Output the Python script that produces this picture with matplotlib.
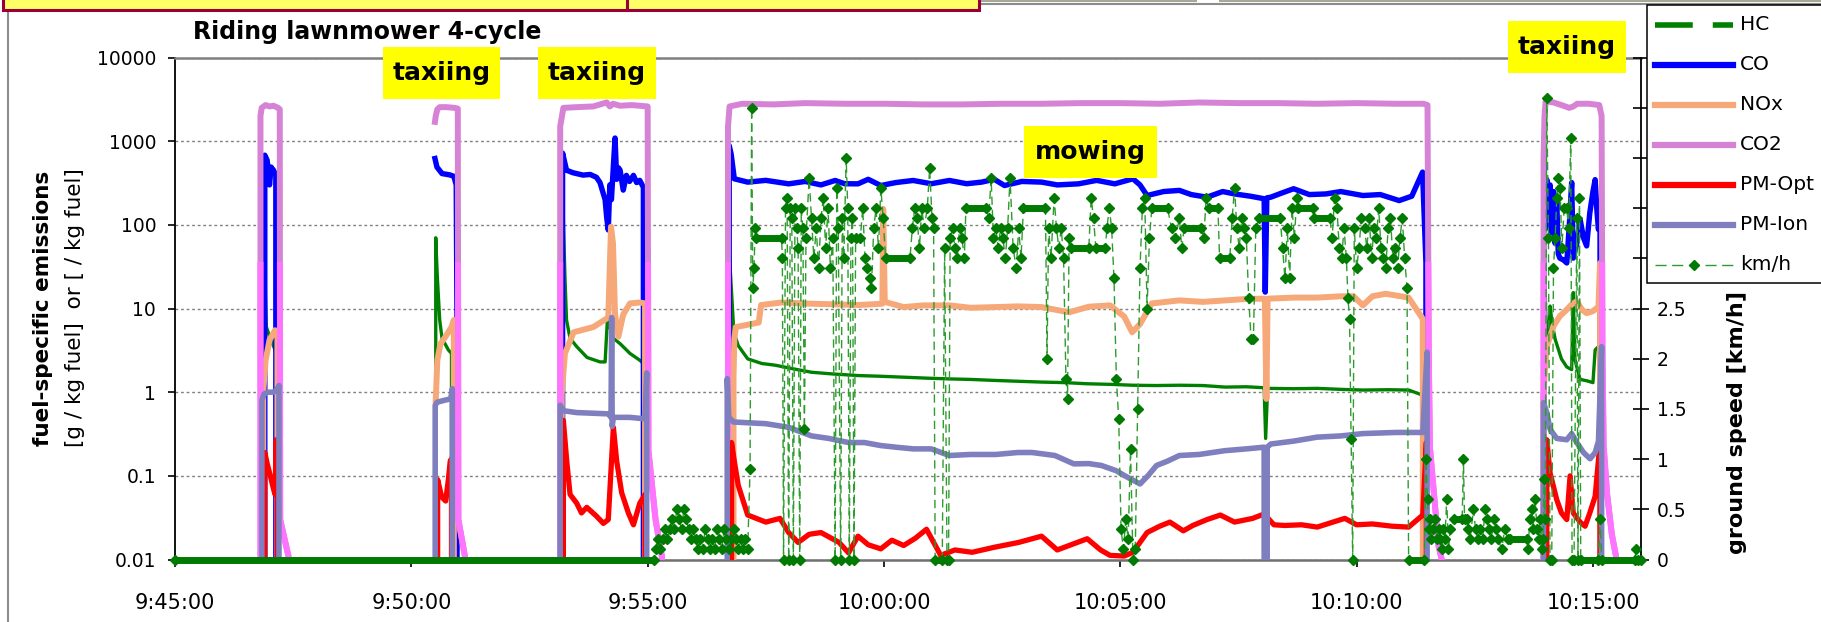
import numpy as np
import matplotlib
matplotlib.use("Agg")
import matplotlib.pyplot as plt
import matplotlib.dates as mdates
from matplotlib.lines import Line2D
from matplotlib.patches import Rectangle
from matplotlib.transforms import Affine2D
from matplotlib.ticker import NullLocator

nan = np.nan

# (seconds after 9:45:00, g / kg fuel)   0 = signal dropped out, nan = no record
hc = [(108, 0), (110, 60), (113, 50), (116, 6), (121, 4.4), (127, 3.2), (130, 3.0), (132, 0), (200, nan),
      (330.5, 0), (331, 70), (332, 40), (333, 24), (336, 7.3), (339, 4.4), (347, 3.2), (351, 2.9), (352, 0), (420, nan),
      (489, 0), (490, 100), (493, 113), (495, 24), (497, 7.3), (501.5, 4.4), (510, 3.5), (523, 2.6), (539.5, 2.3),
      (546, 2.3), (550, 11.5), (552, 6), (556.5, 4.4), (565, 3.8), (577.6, 2.9), (590.3, 2.4), (596.7, 2.1), (598, 40),
      (599, 0), (650, nan),
      (702.5, 0), (703, 60), (706, 19), (709.4, 5.2), (715, 3.6), (727, 2.5), (745, 2.2), (762, 2.1), (785, 1.9),
      (808, 1.73), (835, 1.65), (867, 1.58), (895, 1.55), (925, 1.51), (955, 1.47), (983, 1.44), (1010, 1.42),
      (1042, 1.38), (1070, 1.35), (1100, 1.32), (1130, 1.3), (1158, 1.26), (1187, 1.24), (1216, 1.21), (1245, 1.2),
      (1275, 1.21), (1305, 1.2), (1333, 1.15), (1360, 1.16), (1382.6, 1.13), (1384.5, 0.28), (1387, 1.11), (1420, 1.1),
      (1450, 1.11), (1480, 1.08), (1508, 1.06), (1540, 1.07), (1566, 1.06), (1580, 0.95), (1584, 0.9), (1589, 4.2),
      (1590, 0), (1650, nan),
      (1737, 0), (1737.3, 96), (1739, 24), (1741, 4), (1743, 3.5), (1745.6, 10.7), (1748, 6.8), (1752, 4.3), (1760, 2.5),
      (1766.8, 2.0), (1773, 1.86), (1775, 15.5), (1777, 2.5), (1779.5, 2.0), (1783.7, 1.42), (1792, 1.37), (1800, 1.3),
      (1802.8, 3.2), (1807, 3.5), (1809, 3.5), (1810, 0)]

co = [(113, 0), (114, 680), (117, 590), (120, 300), (122, 490), (125, 450), (128, 390), (129, 0), (200, nan),
      (330, 620), (332.5, 490), (339, 410), (349, 395), (354, 380), (357, 300), (358, 7.3), (358.5, 0), (420, nan),
      (491, 0), (492, 720), (497, 450), (505, 420), (518, 393), (527, 400), (535, 370), (539.5, 320), (546, 200),
      (548, 123), (550, 87), (552, 300), (554, 200), (556.5, 500), (558.6, 1090), (560.7, 350), (563, 480), (565, 450),
      (569, 260), (573, 390), (577, 330), (582, 390), (586, 320), (590, 340), (594.6, 280), (596, 0), (650, nan),
      (703, 0), (703.5, 890), (706, 700), (710, 355), (727, 324), (750, 340), (779, 309), (800, 330), (820, 300),
      (838, 339), (850, 310), (867, 309), (880, 350), (896, 295), (915, 320), (937, 339), (960, 310), (983, 339),
      (1005, 310), (1024, 324), (1040, 350), (1053, 295), (1075, 330), (1100, 324), (1120, 300), (1147, 309),
      (1170, 340), (1193, 309), (1216, 355), (1225, 300), (1234, 224), (1255, 250), (1275, 258), (1290, 230),
      (1310, 214), (1330, 250), (1345, 234), (1365, 220), (1382.6, 205), (1384, 15.7), (1386, 210), (1391, 214),
      (1405, 240), (1420, 270), (1440, 230), (1461, 234), (1480, 250), (1508, 224), (1530, 230), (1554, 195),
      (1570, 220), (1583.7, 427), (1588, 35), (1589, 0), (1650, nan),
      (1737, 0), (1737.5, 870), (1738.5, 300), (1740, 90), (1741.4, 347), (1743, 120), (1745.6, 300), (1748, 80),
      (1750, 250), (1752, 60), (1754, 200), (1756, 45), (1758, 40), (1762.6, 38), (1766.8, 35), (1770, 100),
      (1773, 320), (1775, 40), (1779.5, 60), (1783.7, 116), (1788, 70), (1792, 56), (1796, 139), (1800, 250),
      (1802.8, 347), (1805, 150), (1807, 88), (1809, 167), (1810, 0)]

nox = [(111, 0), (112, 1.0), (115, 2.4), (120, 4.2), (127, 5.5), (130, 5.0), (131, 0), (200, nan),
       (331, 0.8), (333, 2.4), (337, 3.8), (342, 4.4), (351, 6.0), (354, 7.3), (355, 0), (420, nan),
       (490.5, 0), (491, 0.97), (495, 2.9), (506, 5.2), (531, 6.0), (550, 7.8), (553.5, 95), (556, 60), (558.6, 8.5),
       (562.8, 4.6), (569, 8.5), (577.6, 11.5), (590, 11.8), (596.7, 11.5), (597, 0), (650, nan),
       (708, 0), (709, 1.5), (710, 4.3), (712, 6.0), (741, 6.8), (744, 11.0), (770, 11.8), (808, 11.4), (840, 11.2),
       (867, 11.0), (898, 11.4), (899, 155), (901, 12.0), (925, 10.4), (950, 10.9), (983, 10.9), (1010, 10.2),
       (1042, 10.4), (1070, 10.6), (1100, 10.4), (1135, 9.0), (1160, 10.5), (1187, 10.9), (1205, 8.0), (1215, 5.2),
       (1225, 6.5), (1240, 11.5), (1275, 12.5), (1305, 12.0), (1333, 12.5), (1360, 13.0), (1382, 13.1), (1383.5, 13.0),
       (1385.5, 0.83), (1387, 13.1), (1420, 13.5), (1450, 13.5), (1480, 14.0), (1496, 14.0), (1508, 10.9),
       (1520, 14.0), (1537, 15.0), (1566, 13.5), (1584, 7.5), (1586, 0), (1650, nan),
       (1737, 0), (1737.2, 0.89), (1739, 1.7), (1741.4, 3.5), (1750, 6.2), (1758, 8.1), (1766.8, 9.7), (1773, 11.2),
       (1779.5, 12.2), (1786, 9.7), (1792, 8.8), (1800, 9.3), (1807, 10.5), (1809, 35), (1810, 0)]

co2 = [(108, 0), (108.5, 2000), (110, 2500), (115, 2700), (120, 2600), (125, 2650), (131, 2500), (133, 2400),
       (133.5, 0.03), (144, 0.011), (145, 0), (200, nan),
       (330, 1700), (331, 2000), (333, 2400), (336, 2550), (345, 2550), (355, 2500), (359, 2450), (359.7, 0.03),
       (368, 0.011), (369, 0), (420, nan),
       (488.5, 0), (489, 1500), (493, 2500), (510, 2550), (531, 2600), (548, 2900), (552, 2600), (556, 2800),
       (565, 2650), (580, 2700), (600, 2600), (601, 0.2), (610, 0.03), (618, 0.011), (619, 0), (650, nan),
       (701.5, 0), (702, 1500), (704, 2600), (720, 2800), (760, 2750), (800, 2850), (850, 2800), (900, 2800),
       (950, 2750), (1000, 2750), (1050, 2800), (1100, 2800), (1150, 2850), (1200, 2850), (1250, 2800), (1300, 2900),
       (1350, 2850), (1400, 2850), (1450, 2800), (1500, 2850), (1550, 2800), (1585, 2800), (1590, 2700),
       (1591.5, 3.2), (1593, 0.22), (1604, 0.0145), (1608, 0.01), (1609, 0), (1650, nan),
       (1737, 0), (1737.3, 600), (1738.5, 2000), (1740, 3000), (1750, 2900), (1760, 2700), (1770, 2500), (1775, 2600),
       (1780, 2800), (1795, 2800), (1808, 2700), (1811, 2000), (1812, 3.5), (1813.5, 0.23), (1818, 0.06),
       (1824, 0.02), (1830, 0.01), (1831, 0)]

pm_opt = [(113, 0), (114, 0.19), (117, 0.14), (121, 0.1), (125, 0.07), (127, 0.06), (128.5, 0.27), (130, 0.05),
          (130.5, 0), (200, nan),
          (333, 0), (333.4, 0.09), (338.5, 0.056), (343.6, 0.05), (347, 0.09), (349.4, 0.15), (351, 0.16),
          (351.5, 0), (420, nan),
          (492.5, 0), (493, 0.46), (497.3, 0.15), (501.5, 0.06), (510, 0.047), (516, 0.036), (522.7, 0.042),
          (535, 0.033), (543.8, 0.027), (550, 0.03), (556.5, 0.38), (560.7, 0.15), (567, 0.063), (575.5, 0.036),
          (582, 0.026), (590, 0.047), (596.7, 0.06), (597.5, 0), (650, nan),
          (706, 0), (706.5, 0.25), (710, 0.15), (715, 0.077), (727, 0.034), (750, 0.028), (768, 0.031), (779, 0.021),
          (791, 0.016), (805, 0.02), (820, 0.021), (843, 0.016), (855, 0.012), (867, 0.019), (880, 0.015),
          (896, 0.0134), (910, 0.017), (925, 0.0147), (940, 0.018), (954, 0.023), (972, 0.0112), (990, 0.013),
          (1012, 0.0122), (1040, 0.014), (1071, 0.016), (1100, 0.019), (1120, 0.013), (1135, 0.0147),
          (1158, 0.0177), (1175, 0.013), (1187, 0.0112), (1205, 0.011), (1216, 0.0122), (1234, 0.021), (1250, 0.025),
          (1263, 0.028), (1280, 0.022), (1292, 0.0255), (1310, 0.03), (1327, 0.034), (1345, 0.028), (1368, 0.031),
          (1382.6, 0.035), (1395, 0.026), (1409, 0.0255), (1430, 0.026), (1450, 0.0244), (1470, 0.028),
          (1485, 0.031), (1500, 0.026), (1520, 0.0266), (1545, 0.025), (1566, 0.0244), (1584, 0.034),
          (1588.5, 0.25), (1589.5, 0), (1650, nan),
          (1741, 0), (1741.4, 0.27), (1745.6, 0.108), (1754, 0.052), (1760, 0.036), (1766.8, 0.03), (1771, 0.1),
          (1775, 0.036), (1783.7, 0.028), (1790, 0.025), (1796, 0.036), (1802.8, 0.057), (1809, 0.25), (1810, 0)]

pm_ion = [(110, 0), (110.3, 0.8), (113, 0.95), (118, 1.0), (124, 1.0), (129, 1.05), (132, 1.2), (132.5, 0), (200, nan),
          (330, 0), (330.3, 0.7), (333, 0.76), (342, 0.8), (350, 0.83), (352, 1.1), (352.5, 0), (420, nan),
          (488.8, 0), (489, 0.7), (493, 0.6), (510, 0.57), (531, 0.56), (550, 0.55), (553.5, 0.5), (554.3, 7.8),
          (555, 0.39), (556.5, 0.5), (577, 0.5), (596.7, 0.48), (598.8, 1.7), (599.3, 0), (650, nan),
          (700.5, 0), (701, 1.45), (703, 0.5), (709, 0.44), (750, 0.42), (779, 0.38), (808, 0.30), (830, 0.28),
          (855, 0.25), (875, 0.25), (896, 0.23), (915, 0.22), (937, 0.21), (960, 0.21), (983, 0.175), (1010, 0.18),
          (1042, 0.18), (1070, 0.19), (1088, 0.19), (1117, 0.175), (1141, 0.139), (1160, 0.14), (1176, 0.133),
          (1195, 0.115), (1205, 0.101), (1225, 0.080), (1235, 0.1), (1246, 0.133), (1260, 0.15), (1275, 0.175),
          (1300, 0.18), (1333, 0.20), (1360, 0.21), (1382.6, 0.22), (1384.5, 0), (1386.5, 0.22), (1391, 0.24),
          (1420, 0.26), (1450, 0.29), (1480, 0.3), (1508, 0.32), (1550, 0.33), (1584, 0.33), (1589.5, 3.0),
          (1590, 0), (1650, nan),
          (1737, 0), (1737.2, 0.75), (1741.4, 0.57), (1745.6, 0.36), (1754, 0.28), (1766.8, 0.27), (1773, 0.32),
          (1779.5, 0.25), (1788, 0.19), (1796.4, 0.16), (1802.8, 0.19), (1807, 0.26), (1811, 3.5), (1811.5, 0)]

# ground speed (seconds after 9:45:00, km/h)
speed = [(0, 0), (608, 0),
         (610, 0.1), (613, 0.2), (616, 0.1), (619, 0.2), (622, 0.3), (625, 0.2), (628, 0.3), (631, 0.4), (634, 0.3),
         (637, 0.5), (640, 0.4), (643, 0.3), (646, 0.5), (649, 0.4), (652, 0.3), (655, 0.2), (658, 0.3), (661, 0.2),
         (664, 0.1), (667, 0.2), (670, 0.1), (673, 0.3), (676, 0.2), (679, 0.1), (682, 0.2), (685, 0.1), (688, 0.3),
         (691, 0.2), (694, 0.1), (697, 0.3), (700, 0.2), (703, 0.1), (706, 0.2), (709, 0.3), (712, 0.2), (715, 0.1),
         (718, 0.2), (721, 0.1), (724, 0.2), (727, 0.1),
         (730, 0.9), (732, 4.5), (733.5, 2.7), (735, 2.9), (736.5, 3.3), (738, 3.2), (770, 3.2),
         (771, 3.0), (772.5, 0), (775, 3.5), (777, 3.6), (779, 0), (781, 3.5), (783, 3.4), (785, 0), (787, 3.5),
         (789, 3.3), (791, 3.1), (793, 0), (795, 3.5), (797, 3.3), (799, 1.3), (801, 3.2),
         (805, 3.8), (808, 3.4), (811, 3.0), (814, 3.3), (817, 2.9), (820, 3.4), (823, 3.6), (826, 3.1), (829, 3.5),
         (832, 2.9), (835, 3.2),
         (838, 0), (840, 3.7), (842, 3.3), (845, 0), (847, 3.4), (849, 3.0), (852, 4.0), (854, 3.5), (856, 0),
         (858, 3.2), (860, 3.4), (862, 0),
         (864, 3.2), (870, 3.2), (873, 3.5), (876, 3.0), (879, 2.9), (882, 2.8), (884, 2.7), (887, 3.3), (890, 3.5),
         (893, 3.1), (896, 3.7), (899, 3.4), (902, 3.0), (933, 3.0),
         (936, 3.3), (939, 3.5), (942, 3.4), (945, 3.1), (948, 3.5), (951, 3.3), (955, 3.5), (958, 3.9), (961, 3.4),
         (963, 3.3), (965, 0), (974, 0), (977, 3.1), (980, 0), (982, 0), (984, 3.2),
         (987, 3.3), (990, 3.1), (993, 3.0), (996, 3.3), (999, 3.2), (1002, 3.0), (1004, 3.5), (1030, 3.5),
         (1033, 3.4), (1036, 3.8), (1039, 3.2), (1042, 3.3), (1045, 3.1), (1048, 3.3), (1051, 3.2), (1054, 3.0),
         (1057, 3.3), (1060, 3.8), (1064, 3.1), (1068, 2.9), (1071, 3.3), (1074, 3.0), (1077, 3.5), (1105, 3.5),
         (1107, 2.0), (1109, 3.3), (1112, 3.0), (1116, 3.6), (1119, 3.3), (1122, 3.1), (1125, 3.3), (1128, 3.0),
         (1131, 1.8), (1133, 1.6), (1135, 3.2), (1137, 3.1), (1160, 3.1), (1163, 3.6), (1166, 3.4), (1169, 3.1),
         (1181, 3.1), (1183, 3.3), (1186, 3.5), (1189, 3.3), (1192, 2.8), (1195, 1.8), (1198, 1.4), (1201, 0.3),
         (1204, 0.1), (1207, 0.4), (1210, 0.2), (1213, 1.1), (1216, 0), (1219, 0.1), (1222, 1.5), (1225, 2.9),
         (1228, 3.5), (1231, 3.6), (1234, 2.5), (1237, 3.2), (1240, 3.5), (1260, 3.5), (1265, 3.3), (1270, 3.2),
         (1275, 3.4), (1278, 3.1), (1281, 3.3), (1303, 3.3), (1306, 3.2), (1309, 3.6), (1312, 3.5), (1324, 3.5),
         (1326, 3.0), (1339, 3.0), (1342, 3.4), (1345, 3.7), (1348, 3.3), (1351, 3.1), (1354, 3.4), (1357, 3.3),
         (1360, 3.2), (1363, 2.6), (1366, 2.2), (1369, 2.2), (1372, 3.3), (1376, 3.4), (1403, 3.4), (1406, 3.1),
         (1409, 2.8), (1412, 3.3), (1415, 2.8), (1418, 3.5), (1421, 3.2), (1424, 3.6), (1426, 3.5), (1444, 3.5),
         (1446, 3.4), (1466, 3.4), (1469, 3.2), (1472, 3.6), (1475, 3.5), (1478, 3.1), (1481, 3.0), (1484, 3.3),
         (1487, 3.0), (1489, 2.6), (1491, 2.4), (1493, 1.2), (1495, 0), (1497, 3.3), (1500, 2.9), (1503, 3.1),
         (1506, 3.4), (1510, 3.3), (1513, 3.1), (1516, 3.4), (1519, 3.0), (1522, 3.3), (1525, 3.2), (1528, 3.5),
         (1531, 3.1), (1534, 3.0), (1537, 2.9), (1540, 3.3), (1543, 3.4), (1546, 3.0), (1549, 3.1), (1552, 2.9),
         (1555, 3.2), (1558, 3.4), (1561, 3.0), (1564, 2.7), (1566, 0), (1586, 0),
         (1588, 1.0), (1590, 0.6), (1592, 0.3), (1593.5, 0.4), (1595, 0.2), (1597, 0.3), (1600, 0.4), (1602, 0.2),
         (1604, 0.3), (1606, 0.2), (1608, 0.1), (1610, 0.3), (1612, 0.2), (1614.4, 0.6), (1616.6, 0.1), (1619, 0.3),
         (1623, 0.4), (1634, 0.4), (1635.6, 1.0), (1637, 0.4), (1640, 0.4), (1642, 0.3), (1644, 0.2), (1648.3, 0.5),
         (1651, 0.3), (1654, 0.2), (1657, 0.3), (1660, 0.2), (1663, 0.5), (1665, 0.4), (1668, 0.3), (1671, 0.2),
         (1674, 0.4), (1677, 0.3), (1680, 0.2), (1684, 0.1), (1688, 0.3), (1692, 0.2), (1695, 0.2), (1716, 0.2),
         (1717.5, 0.1), (1720, 0.4), (1722.4, 0.5), (1724, 0.3), (1726.6, 0.6), (1729, 0.3), (1731, 0.2), (1733, 0.4),
         (1735, 0.1), (1737, 0.2), (1738, 0.8), (1739.5, 0.4),
         (1741.4, 4.6), (1743.5, 3.2), (1745.5, 0), (1747.7, 0), (1749.9, 2.9), (1752, 3.2), (1754.1, 3.6),
         (1756.2, 3.8), (1758.3, 3.7), (1760.5, 3.1), (1763.5, 3.5), (1766.8, 3.5), (1769, 3.3), (1771.9, 4.2),
         (1773.5, 0), (1776, 0), (1779.5, 3.4), (1781, 0), (1782.9, 3.6), (1784.5, 0), (1807, 0), (1809.1, 0.4),
         (1811, 0), (1853, 0), (1855, 0.1), (1857, 0), (1861, 0)]

# stretches where the speed markers pile up into a solid bar (start s, end s, km/h)
speed_runs = [(0, 608, 0), (738, 770, 3.2), (864, 870, 3.2), (902, 933, 3.0), (965, 974, 0), (1004, 1030, 3.5),
              (1077, 1105, 3.5), (1137, 1160, 3.1), (1169, 1181, 3.1), (1240, 1260, 3.5), (1281, 1303, 3.3),
              (1312, 1324, 3.5), (1326, 1339, 3.0), (1376, 1403, 3.4), (1426, 1444, 3.5), (1446, 1466, 3.4),
              (1566, 1586, 0), (1623, 1640, 0.4), (1695, 1716, 0.2), (1784.5, 1861, 0)]

phases = [("taxiing", 383, 47, 500, 99), ("taxiing", 538, 47, 656, 99),
          ("taxiing", 1508, 21, 1626, 73), ("mowing", 1024, 126, 1157, 178)]

log_ticks = [0.01, 0.1, 1, 10, 100, 1000, 10000]
log_labels = ["0.01", "0.1", "1", "10", "100", "1000", "10000"]
speed_ticks = [0, 0.5, 1, 1.5, 2, 2.5, 3, 3.5, 4, 4.5, 5]

t0 = np.datetime64("2000-01-01T09:45:00")


def clock(sec):
    return t0 + (np.asarray(sec, float) * 1000).round().astype("int64") * np.timedelta64(1, "ms")


W, H = 1821, 622
fig = plt.figure(figsize=(W / 100, H / 100), dpi=100)
px = Affine2D().scale(1 / W, -1 / H).translate(0, 1) + fig.transFigure

ax = fig.add_axes([175 / W, 1 - 559.5 / H, (1641 - 175) / W, (559.5 - 57.5) / H])
ax.set_yscale("log", nonpositive="clip")

styles = [(hc, "#008000", 2.4), (co, "#0000FF", 3.9), (nox, "#F7A878", 4.3),
          (co2, "#D683D6", 4.3), (pm_opt, "#FF0000", 3.8), (pm_ion, "#7F7FBF", 4.0)]
for i, (data, color, lw) in enumerate(styles):
    t, v = zip(*data)
    ax.plot(clock(t), v, color=color, lw=lw, zorder=2 + i)
    if data is co2:
        low, = ax.plot(clock(t), v, color="#FF74FF", lw=lw, zorder=2 + i)
        low.set_clip_path(Rectangle((0, 0), 1, (np.log10(36) + 2) / 6, transform=ax.transAxes))

ax.set_ylim(0.01, 10000)
ax.set_yticks(log_ticks, log_labels)
ax.yaxis.set_minor_locator(NullLocator())
ax.grid(axis="y", color="#808080", ls=(0, (2, 2)), lw=1.0)
ax.set_xlim(clock(0), clock(1861))
ax.xaxis.set_major_locator(mdates.MinuteLocator(byminute=range(0, 60, 5)))
ax.xaxis.set_major_formatter(mdates.DateFormatter("%-H:%M:%S"))
ax.tick_params(axis="y", direction="out", length=5, width=1.2, pad=8.5, labelsize=13.5)
ax.tick_params(axis="x", direction="out", length=5, width=1.2, pad=19, labelsize=15)
ax.spines["right"].set_visible(False)
ax.spines["top"].set_color("#808080")
ax.spines["top"].set_linewidth(1.8)
ax.spines["bottom"].set_color("#707070")
ax.spines["bottom"].set_linewidth(1.8)
ax.spines["left"].set_linewidth(1.3)

ax2 = ax.twinx()
st, sv = zip(*speed)
ax2.plot(clock(st), sv, color="#2E9B2E", lw=1.0, dashes=(6, 3.5), marker="D", ms=5,
         mfc="#007A00", mec="#007A00", clip_on=False, zorder=3)
for a, b, v in speed_runs:
    ax2.plot(clock([a, b]), [v, v], color="#007A00", lw=5, solid_capstyle="round", clip_on=False, zorder=3)
ax2.set_ylim(0, 5)
ax2.set_yticks(speed_ticks, [f"{v:g}" for v in speed_ticks])
ax2.tick_params(axis="y", direction="inout", length=11, width=1.2, pad=6, labelsize=13.5)
for s in ["top", "bottom", "left"]:
    ax2.spines[s].set_visible(False)
ax2.spines["right"].set_linewidth(1.3)

# titles and axis captions
fig.text(367, 32, "Riding lawnmower 4-cycle", transform=px, ha="center", va="center",
         fontsize=17, fontweight="bold")
fig.text(43, 308, "fuel-specific emissions", transform=px, rotation=90, ha="center", va="center",
         fontsize=15.5, fontweight="bold")
fig.text(75, 308, "[g / kg fuel]  or [ / kg fuel]", transform=px, rotation=90, ha="center", va="center",
         fontsize=15.5)
fig.text(1737, 423, "ground speed [km/h]", transform=px, rotation=90, ha="center", va="center",
         fontsize=16, fontweight="bold")

for label, x0, y0, x1, y1 in phases:
    fig.add_artist(Rectangle((x0, y0), x1 - x0, y1 - y0, transform=px, fc="#FFFF00", ec="none", zorder=10))
    fig.text((x0 + x1) / 2, (y0 + y1) / 2, label, transform=px, ha="center", va="center",
             fontsize=18, fontweight="bold", zorder=11)

# chart frame and banner remains at the top
fig.add_artist(Line2D([8, 8], [4, 622], transform=px, color="#8C8C8C", lw=1.5))
fig.add_artist(Line2D([8, 1821], [4, 4], transform=px, color="#8C8C8C", lw=1.5))
fig.add_artist(Line2D([981, 1196], [1, 1], transform=px, color="#A8A898", lw=1.5))
fig.add_artist(Line2D([1220, 1821], [1, 1], transform=px, color="#A8A898", lw=1.5))
fig.add_artist(Rectangle((3, -10), 976, 20, transform=px, fc="#FFFF66", ec="#99003A", lw=2.2, zorder=12))
fig.add_artist(Line2D([627, 627], [-2, 10], transform=px, color="#99003A", lw=2.2, zorder=13))

# legend
fig.add_artist(Rectangle((1647, 5), 200, 278, transform=px, fc="white", ec="black", lw=1.1, zorder=20))
entries = [("HC", dict(color="#008000", lw=4, dashes=(6.8, 3.6))),
           ("CO", dict(color="#0000FF", lw=4.5)),
           ("NOx", dict(color="#F7A878", lw=4.5)),
           ("CO2", dict(color="#D683D6", lw=4.5)),
           ("PM-Opt", dict(color="#FF0000", lw=4.5)),
           ("PM-Ion", dict(color="#7F7FBF", lw=4.5)),
           ("km/h", dict(color="#2E9B2E", lw=1.0, dashes=(8, 4), marker="D", ms=5, markevery=[1],
                         mfc="#007A00", mec="#007A00"))]
for i, (label, kw) in enumerate(entries):
    y = 25 + 40 * i
    fig.add_artist(Line2D([1655, 1694, 1733], [y, y, y], transform=px, zorder=21, **kw))
    fig.text(1740, y, label, transform=px, ha="left", va="center", fontsize=14.5, zorder=21)

fig.savefig("out.png", dpi=100)
